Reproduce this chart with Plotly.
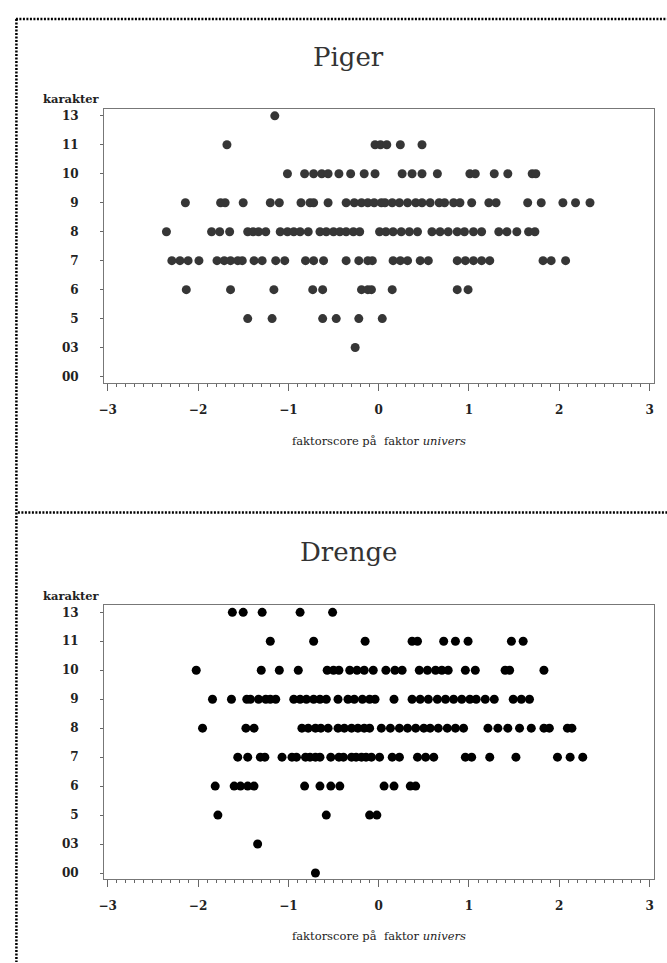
import plotly.graph_objects as go

# ---------------- data ----------------
grade_order = ["00", "03", "5", "6", "7", "8", "9", "10", "11", "13"]
x_ticks = [-3, -2, -1, 0, 1, 2, 3]

piger_13 = [-1.15]
piger_11 = [-1.68, -0.04, 0.02, 0.09, 0.24, 0.48]
piger_10 = [-1.01, -0.82, -0.72, -0.63, -0.56, -0.44, -0.31, -0.16, -0.04, 0.26, 0.37,
            0.48, 0.65, 1.01, 1.07, 1.28, 1.43, 1.70, 1.74]
piger_9 = [-2.14, -1.75, -1.70, -1.50, -1.20, -1.10, -0.86, -0.76, -0.72, -0.56, -0.36,
           -0.27, -0.19, -0.12, -0.05, 0.03, 0.07, 0.15, 0.23, 0.32, 0.41, 0.48, 0.57,
           0.67, 0.73, 0.83, 0.90, 1.03, 1.22, 1.30, 1.65, 1.80, 2.04, 2.18, 2.34]
piger_8 = [-2.35, -1.85, -1.76, -1.65, -1.45, -1.39, -1.33, -1.25, -1.09, -1.01, -0.94,
           -0.87, -0.78, -0.65, -0.58, -0.50, -0.43, -0.36, -0.28, -0.21, 0.01, 0.08,
           0.16, 0.25, 0.34, 0.43, 0.59, 0.68, 0.77, 0.87, 0.95, 1.05, 1.14, 1.33, 1.42,
           1.53, 1.66, 1.73]
piger_7 = [-2.29, -2.20, -2.11, -1.99, -1.79, -1.71, -1.64, -1.56, -1.51, -1.38, -1.29,
           -1.14, -1.04, -0.81, -0.72, -0.61, -0.36, -0.22, -0.12, -0.07, 0.16, 0.24,
           0.32, 0.46, 0.55, 0.87, 0.96, 1.05, 1.14, 1.23, 1.82, 1.91, 2.07]
piger_6 = [-2.13, -1.64, -1.16, -0.73, -0.62, -0.19, -0.12, -0.08, 0.15, 0.87, 0.99]
piger_5 = [-1.45, -1.18, -0.62, -0.47, -0.22, 0.04]
piger_03 = [-0.26]
piger_00 = []

drenge_13 = [-1.62, -1.50, -1.29, -0.87, -0.51]
drenge_11 = [-1.20, -0.72, -0.15, 0.37, 0.43, 0.72, 0.85, 0.99, 1.47, 1.60]
drenge_10 = [-2.02, -1.30, -1.10, -0.89, -0.57, -0.50, -0.44, -0.32, -0.24, -0.16, -0.06,
             0.08, 0.18, 0.26, 0.45, 0.54, 0.63, 0.70, 0.77, 0.96, 1.07, 1.40, 1.45, 1.83]
drenge_9 = [-1.84, -1.63, -1.46, -1.42, -1.33, -1.25, -1.20, -1.14, -0.94, -0.87, -0.80,
            -0.72, -0.65, -0.58, -0.45, -0.34, -0.27, -0.18, -0.10, -0.04, 0.17, 0.37,
            0.46, 0.55, 0.65, 0.74, 0.83, 0.92, 1.01, 1.08, 1.18, 1.28, 1.49, 1.58, 1.67]
drenge_8 = [-1.95, -1.47, -1.38, -0.85, -0.78, -0.70, -0.64, -0.56, -0.45, -0.38, -0.30,
            -0.23, -0.16, -0.10, 0.03, 0.13, 0.23, 0.32, 0.41, 0.50, 0.57, 0.66, 0.76,
            0.85, 0.94, 1.21, 1.32, 1.43, 1.56, 1.69, 1.83, 1.89, 2.09, 2.14]
drenge_7 = [-1.56, -1.45, -1.31, -1.26, -1.07, -0.96, -0.91, -0.81, -0.76, -0.70, -0.65,
            -0.53, -0.44, -0.39, -0.30, -0.25, -0.19, -0.14, -0.08, 0.01, 0.15, 0.23,
            0.43, 0.52, 0.61, 0.96, 1.03, 1.23, 1.52, 1.98, 2.12, 2.26]
drenge_6 = [-1.81, -1.60, -1.53, -1.45, -1.38, -0.82, -0.65, -0.53, -0.43, 0.06, 0.17,
            0.35, 0.41]
drenge_5 = [-1.78, -0.58, -0.10, -0.02]
drenge_03 = [-1.34]
drenge_00 = [-0.70]

piger = {"13": piger_13, "11": piger_11, "10": piger_10, "9": piger_9, "8": piger_8,
         "7": piger_7, "6": piger_6, "5": piger_5, "03": piger_03, "00": piger_00}
drenge = {"13": drenge_13, "11": drenge_11, "10": drenge_10, "9": drenge_9, "8": drenge_8,
          "7": drenge_7, "6": drenge_6, "5": drenge_5, "03": drenge_03, "00": drenge_00}

# ---------------- layout helpers (pixel -> paper) ----------------
W, H = 667, 963
def px(x):
    return x / W
def py(y):
    return 1 - y / H

SERIF = "DejaVu Serif"

def flatten(d):
    xs, ys = [], []
    for g in grade_order:
        for v in d[g]:
            xs.append(v)
            ys.append(g)
    return xs, ys

fig = go.Figure()
px_top, py_top = flatten(piger)
px_bot, py_bot = flatten(drenge)

fig.add_trace(go.Scatter(x=px_top, y=py_top, mode="markers", xaxis="x", yaxis="y",
                         marker=dict(size=9, color="#363636"), showlegend=False))
fig.add_trace(go.Scatter(x=px_bot, y=py_bot, mode="markers", xaxis="x2", yaxis="y2",
                         marker=dict(size=9, color="#000000"), showlegend=False))

xaxis_common = dict(
    range=[-3.04, 3.05], tickvals=x_ticks, ticks="outside", ticklen=7, tickwidth=1,
    tickcolor="#666", showline=True, mirror=True, linecolor="#777", linewidth=1,
    showgrid=False, zeroline=False, ticklabelstandoff=9,
    tickfont=dict(family=SERIF, size=12, color="#222", weight="bold"),
    minor=dict(dtick=0.1, ticks="outside", ticklen=3, tickcolor="#666", tickwidth=1,
               showgrid=False),
)
yaxis_common = dict(
    type="category", categoryorder="array", categoryarray=grade_order,
    range=[-0.21, 9.24], ticks="outside", ticklen=3, tickcolor="#666",
    showline=True, mirror=True, linecolor="#777", linewidth=1, showgrid=False,
    zeroline=False, ticklabelstandoff=19,
    tickfont=dict(family=SERIF, size=12, color="#222", weight="bold"),
)

fig.update_layout(
    width=W, height=H, margin=dict(l=0, r=0, t=0, b=0),
    paper_bgcolor="white", plot_bgcolor="white",
    xaxis=dict(domain=[px(99), px(654)], anchor="y", **xaxis_common),
    yaxis=dict(domain=[py(383), py(109)], anchor="x", **yaxis_common),
    xaxis2=dict(domain=[px(99), px(654)], anchor="y2", **xaxis_common),
    yaxis2=dict(domain=[py(880), py(606)], anchor="x2", **yaxis_common),
)

ann = []
for title, ty in [("Piger", 57), ("Drenge", 553)]:
    ann.append(dict(text=title, x=px(346), y=py(ty), xref="paper", yref="paper",
                    showarrow=False, xanchor="center", yanchor="middle",
                    font=dict(family=SERIF, size=26, color="#333")))
for ky in [99, 597]:
    ann.append(dict(text="karakter", x=px(66), y=py(ky), xref="paper", yref="paper",
                    showarrow=False, xanchor="center", yanchor="middle",
                    font=dict(family=SERIF, size=11.5, color="#222", weight="bold")))
for ty in [441, 937]:
    ann.append(dict(text="faktorscore på&nbsp; faktor <i>univers</i>", x=px(376), y=py(ty),
                    xref="paper", yref="paper", showarrow=False, xanchor="center",
                    yanchor="middle", font=dict(family=SERIF, size=11.5, color="#222")))
fig.update_layout(annotations=ann)

dotted = dict(color="black", width=2.5, dash="2px,1.5px")
fig.update_layout(shapes=[
    dict(type="line", xref="paper", yref="paper", x0=px(10), x1=px(667), y0=py(19), y1=py(19), line=dotted),
    dict(type="line", xref="paper", yref="paper", x0=px(10.5), x1=px(10.5), y0=py(19), y1=py(963), line=dotted),
    dict(type="line", xref="paper", yref="paper", x0=px(12), x1=px(667), y0=py(513), y1=py(513), line=dotted),
])

fig.write_html("out.html", config={"displayModeBar": False},
               post_script="document.body.style.margin='0';document.body.style.overflow='hidden';")
